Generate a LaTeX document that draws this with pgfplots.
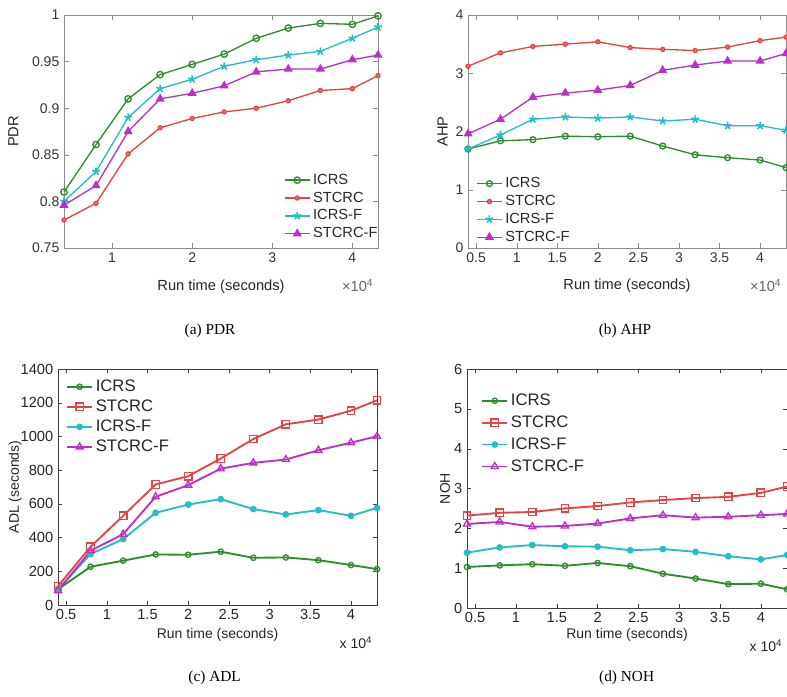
\documentclass[border=0pt]{standalone}
\usepackage{fontspec}
\setmainfont{Liberation Sans}
\newfontfamily\capfont{Liberation Serif}
\usepackage{pgfplots}
\pgfplotsset{compat=1.18}
\usetikzlibrary{plotmarks}

\definecolor{colG}{RGB}{48,140,48}
\definecolor{colR}{RGB}{232,66,66}
\definecolor{colC}{RGB}{38,190,196}
\definecolor{colM}{RGB}{188,48,200}

% x values are in units of 10^4 s
\pgfplotstableread{
x     icrs   stcrc  icrsf  stcrcf
0.4   0.810  0.780  0.800  0.796
0.8   0.861  0.798  0.832  0.817
1.2   0.910  0.851  0.890  0.875
1.6   0.936  0.879  0.921  0.910
2.0   0.947  0.889  0.931  0.916
2.4   0.958  0.896  0.945  0.924
2.8   0.975  0.900  0.952  0.939
3.2   0.986  0.908  0.957  0.942
3.6   0.991  0.919  0.961  0.942
4.0   0.990  0.921  0.975  0.952
4.32  0.999  0.935  0.987  0.957
}\pdr
\pgfplotstableread{
x     icrs   stcrc  icrsf  stcrcf
0.4   1.70   3.12   1.70   1.96
0.8   1.84   3.35   1.94   2.21
1.2   1.86   3.46   2.21   2.59
1.6   1.92   3.50   2.25   2.66
2.0   1.91   3.54   2.23   2.71
2.4   1.92   3.44   2.25   2.79
2.8   1.75   3.41   2.18   3.05
3.2   1.60   3.39   2.21   3.14
3.6   1.55   3.45   2.10   3.21
4.0   1.51   3.56   2.10   3.21
4.32  1.38   3.62   2.02   3.34
}\ahp
\pgfplotstableread{
x     icrs   stcrc  icrsf  stcrcf
0.4   93     112    93     85
0.8   227    345    302    322
1.2   263    529    391    420
1.6   300    715    547    642
2.0   298    764    596    711
2.4   316    869    628    809
2.8   280    985    569    843
3.2   282    1072   537    863
3.6   266    1100   563    918
4.0   237    1153   529    963
4.32  213    1214   576    1001
}\adl
\pgfplotstableread{
x     icrs   stcrc  icrsf  stcrcf
0.4   1.03   2.32   1.39   2.11
0.8   1.07   2.39   1.52   2.16
1.2   1.10   2.41   1.58   2.04
1.6   1.06   2.50   1.55   2.06
2.0   1.13   2.56   1.54   2.12
2.4   1.05   2.65   1.45   2.25
2.8   0.86   2.71   1.48   2.33
3.2   0.74   2.76   1.41   2.27
3.6   0.60   2.79   1.30   2.29
4.0   0.61   2.89   1.22   2.33
4.32  0.47   3.05   1.33   2.36
}\noh

\pgfplotsset{
  panel/.style={
    scale only axis, clip=false, tick align=inside,
    xmin=0.4, xmax=4.32, scaled ticks=false,
    /pgf/number format/assume math mode=true,
    /pgf/number format/1000 sep={},
    xlabel={Run time (seconds)},
    legend cell align=left,
    legend image code/.code={
      \draw[mark repeat=2,mark phase=2,##1] plot coordinates {(0cm,0cm) (0.33cm,0cm) (0.66cm,0cm)};},
  },
  matlabnew/.style={panel,
    axis line style={black!45}, major tick style={black!45},
    major tick length=4pt,
    tick label style={font=\fontsize{10.5}{12}\selectfont, text=black!80},
    label style={font=\fontsize{11}{13}\selectfont, text=black!85},
    legend style={draw=none, fill=none, font=\fontsize{11}{13}\selectfont, text=black!85,
      row sep=0.2pt, inner sep=0pt},
  },
  matlabold/.style={panel,
    axis line style={black!75}, major tick style={black!75},
    major tick length=3pt,
    tick label style={font=\fontsize{11}{13}\selectfont, text=black!85},
    label style={font=\fontsize{10.5}{12}\selectfont, text=black!85},
    legend style={draw=none, fill=none, font=\fontsize{12.5}{14}\selectfont, text=black!85,
      row sep=0.8pt, inner sep=0pt},
  },
  thin line/.style={line width=1pt},
  thick line/.style={line width=1.4pt},
}

\begin{document}
\begin{tikzpicture}
\path[use as bounding box] (0,0) rectangle (590.25pt,522pt);

% (a) PDR
\begin{axis}[matlabnew, at={(48pt,336pt)}, anchor=south west,
  width=235.5pt, height=174.75pt,
  ymin=0.75, ymax=1, ytick={0.75,0.8,...,1.01}, xtick={1,2,3,4},
  yticklabels={0.75,0.8,0.85,0.9,0.95,1},
  ylabel={PDR},
  xlabel style={at={(axis description cs:0.5,0)}, anchor=center, yshift=-29pt},
  ylabel style={at={([xshift=-38pt]axis description cs:0,0.5)}, anchor=center},
  legend style={at={(0.70,0.33)}, anchor=north west}]
\addplot[thin line, colG, mark=o, mark size=2.4pt] table[y=icrs] {\pdr};
\addplot[thin line, colR, mark=*, mark size=1.5pt, mark options={fill=colR!70}] table[y=stcrc] {\pdr};
\addplot[thin line, colC, mark=star, mark size=3pt, mark options={line width=1.2pt}] table[y=icrsf] {\pdr};
\addplot[thin line, colM, mark=triangle*, mark size=3pt] table[y=stcrcf] {\pdr};
\legend{ICRS,STCRC,ICRS-F,STCRC-F}
\node[anchor=east, font=\fontsize{11}{13}\selectfont, text=black!60] at (rel axis cs:1,0) [yshift=-28pt] {×10\textsuperscript{4}};
\end{axis}

% (b) AHP
\begin{axis}[matlabnew, at={(351pt,336pt)}, anchor=south west,
  width=238.5pt, height=174.75pt,
  ymin=0, ymax=4, ytick={0,1,2,3,4}, xtick={0.5,1,...,4.01},
  xticklabels={0.5,1,1.5,2,2.5,3,3.5,4},
  ylabel={AHP},
  xlabel style={at={(axis description cs:0.5,0)}, anchor=center, yshift=-28pt},
  ylabel style={at={([xshift=-19pt]axis description cs:0,0.5)}, anchor=center},
  legend style={at={(0.025,0.315)}, anchor=north west}]
\addplot[thin line, colG, mark=o, mark size=2.2pt] table[y=icrs] {\ahp};
\addplot[thin line, colR, mark=*, mark size=1.5pt, mark options={fill=colR!70}] table[y=stcrc] {\ahp};
\addplot[thin line, colC, mark=star, mark size=3pt, mark options={line width=1.2pt}] table[y=icrsf] {\ahp};
\addplot[thin line, colM, mark=triangle*, mark size=3pt] table[y=stcrcf] {\ahp};
\legend{ICRS,STCRC,ICRS-F,STCRC-F}
\node[anchor=east, font=\fontsize{11}{13}\selectfont, text=black!60] at (rel axis cs:1,0) [yshift=-28pt] {×10\textsuperscript{4}};
\end{axis}

% (c) ADL
\begin{axis}[matlabold, at={(43.5pt,68.25pt)}, anchor=south west,
  width=239.25pt, height=177pt,
  ymin=0, ymax=1400, ytick={0,200,...,1400}, xtick={0.5,1,...,4.01},
  xticklabels={0.5,1,1.5,2,2.5,3,3.5,4},
  ylabel={ADL (seconds)},
  xlabel style={at={(axis description cs:0.5,0)}, anchor=center, yshift=-22.5pt},
  ylabel style={at={([xshift=-32pt]axis description cs:0,0.5)}, anchor=center},
  legend style={at={(0.025,0.966)}, anchor=north west}]
\addplot[thick line, colG, mark=o, mark size=2pt, mark options={line width=1pt}] table[y=icrs] {\adl};
\addplot[thick line, colR, mark=square, mark size=2.8pt, mark options={line width=1pt}] table[y=stcrc] {\adl};
\addplot[thick line, colC, mark=*, mark size=1.8pt] table[y=icrsf] {\adl};
\addplot[thick line, colM, mark=triangle, mark size=3pt, mark options={line width=1pt}] table[y=stcrcf] {\adl};
\legend{ICRS,STCRC,ICRS-F,STCRC-F}
\node[anchor=east, font=\fontsize{10.5}{12}\selectfont, text=black!85] at (rel axis cs:1,0) [yshift=-28.5pt] {x 10\textsuperscript{4}};
\end{axis}

% (d) NOH
\begin{axis}[matlabold, at={(350.25pt,66pt)}, anchor=south west,
  width=240pt, height=179.25pt,
  ymin=0, ymax=6, ytick={0,1,...,6}, xtick={0.5,1,...,4.01},
  xticklabels={0.5,1,1.5,2,2.5,3,3.5,4},
  ylabel={NOH},
  xlabel style={at={(axis description cs:0.5,0)}, anchor=center, yshift=-20pt},
  ylabel style={at={([xshift=-16.5pt]axis description cs:0,0.5)}, anchor=center},
  legend style={at={(0.044,0.908)}, anchor=north west, row sep=2.2pt}]
\addplot[thick line, colG, mark=o, mark size=2pt, mark options={line width=1pt}] table[y=icrs] {\noh};
\addplot[thick line, colR, mark=square, mark size=2.8pt, mark options={line width=1pt}] table[y=stcrc] {\noh};
\addplot[thick line, colC, mark=*, mark size=1.8pt] table[y=icrsf] {\noh};
\addplot[thick line, colM, mark=triangle, mark size=3pt, mark options={line width=1pt}] table[y=stcrcf] {\noh};
\legend{ICRS,STCRC,ICRS-F,STCRC-F}
\node[anchor=east, font=\fontsize{10.5}{12}\selectfont, text=black!85] at (rel axis cs:1,0) [yshift=-28.5pt] {x 10\textsuperscript{4}};
\end{axis}

\node[font=\capfont\fontsize{11.5}{13}\selectfont] at (157.5pt,274pt) {(a) PDR};
\node[font=\capfont\fontsize{11.5}{13}\selectfont] at (468.75pt,274pt) {(b) AHP};
\node[font=\capfont\fontsize{11.5}{13}\selectfont] at (161pt,13.5pt) {(c) ADL};
\node[font=\capfont\fontsize{11.5}{13}\selectfont] at (470pt,13.5pt) {(d) NOH};
\end{tikzpicture}
\end{document}
